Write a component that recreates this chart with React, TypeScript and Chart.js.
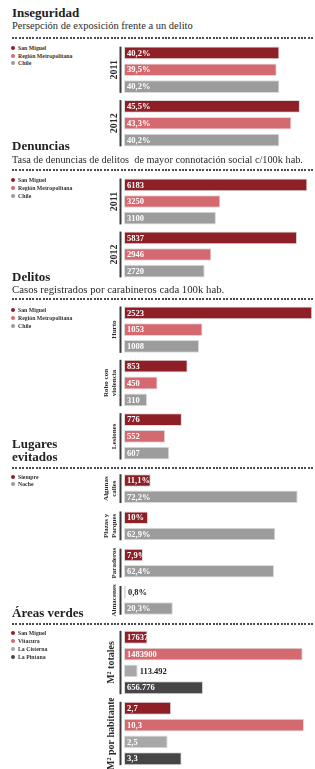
import React, { useEffect, useRef } from 'react';
import { Chart, registerables } from 'chart.js';
Chart.register(...registerables);

const FONT = "'Liberation Serif', 'Times New Roman', serif";
const RED = '#8e1f27';
const PINK = '#d46a70';
const GRAY = '#9c9c9c';
const LIGHT_GRAY = '#a8a8a8';
const DARK_GRAY = '#464646';

// ---- Inseguridad ----
const YEARS = [['2011'], ['2012']];
const SERIES_CMP = ['San Miguel', 'Región Metropolitana', 'Chile'];
const INSEG_SAN_MIGUEL = [40.2, 45.5];
const INSEG_RM = [39.5, 43.3];
const INSEG_CHILE = [40.2, 40.2];

// ---- Denuncias ----
const DEN_SAN_MIGUEL = [6183, 5837];
const DEN_RM = [3250, 2946];
const DEN_CHILE = [3100, 2720];

// ---- Delitos ----
const DELITOS = [['Hurto'], ['Robo con', 'violencia'], ['Lesiones']];
const DEL_SAN_MIGUEL = [2523, 853, 776];
const DEL_RM = [1053, 450, 552];
const DEL_CHILE = [1008, 310, 607];

// ---- Lugares evitados ----
const LUGARES = [['Algunas', 'calles'], ['Plazas y', 'Parques'], ['Paraderos'], ['Almacenes']];
const SERIES_LUG = ['Siempre', 'Noche'];
const SIEMPRE = [11.1, 10, 7.9, 0.8];
const NOCHE = [72.2, 62.9, 62.4, 20.3];

// ---- Áreas verdes ----
const SERIES_AREAS = ['San Miguel', 'Vitacura', 'La Cisterna', 'La Pintana'];
const M2_TOTALES = [17637, 1483900, 113492, 656776];
const M2_TOTALES_LABELS = ['17637', '1483900', '113.492', '656.776'];
const M2_HABITANTE = [2.7, 10.3, 2.5, 3.3];

const fmtDec = (v: number) => String(v).replace('.', ',');
const fmtPct = (v: number) => fmtDec(v) + '%';

const decoPlugin = {
  id: 'deco',
  afterDatasetsDraw(chart: any, _args: any, opts: any) {
    const ctx = chart.ctx;
    const area = chart.chartArea;
    const groups: string[][] = opts.groups;
    const nDs = chart.data.datasets.length;
    ctx.save();
    groups.forEach((lines, g) => {
      const first = chart.getDatasetMeta(0).data[g];
      const last = chart.getDatasetMeta(nDs - 1).data[g];
      const top = first.y - first.height / 2;
      const bottom = last.y + last.height / 2;
      ctx.fillStyle = '#3a3a3a';
      ctx.fillRect(area.left - 4.5, top, 2, bottom - top);
      ctx.save();
      ctx.translate(opts.groupX, (top + bottom) / 2);
      ctx.rotate(-Math.PI / 2);
      ctx.font = `bold ${opts.groupFont}px ${FONT}`;
      ctx.textAlign = 'center';
      ctx.textBaseline = 'middle';
      ctx.fillStyle = '#2a2a2a';
      lines.forEach((ln, i) => ctx.fillText(ln, 0, (i - (lines.length - 1)) * opts.groupLineH));
      ctx.restore();
    });
    ctx.font = `bold 8.5px ${FONT}`;
    ctx.textBaseline = 'middle';
    ctx.textAlign = 'left';
    chart.data.datasets.forEach((_ds: any, di: number) => {
      const meta = chart.getDatasetMeta(di);
      meta.data.forEach((el: any, i: number) => {
        const text = opts.labels[di][i];
        const w = el.x - el.base;
        if (w >= 16) {
          ctx.fillStyle = '#ffffff';
          ctx.fillText(text, el.base + 3, el.y + 0.5);
        } else {
          ctx.fillStyle = '#222222';
          ctx.fillText(text, el.x + 2, el.y + 0.5);
        }
      });
    });
    ctx.restore();
  },
};

type Series = { label: string; color: string; data: number[]; minBarLength?: number };

function BarChart(props: {
  top: number; height: number; groups: string[][]; series: Series[]; max: number;
  labels: string[][]; groupX: number; groupFont: number; groupLineH: number; cp: number; bp: number;
}) {
  const ref = useRef<HTMLCanvasElement>(null);
  useEffect(() => {
    const chart = new Chart(ref.current!, {
      type: 'bar',
      data: {
        labels: props.groups.map((g) => g.join(' ')),
        datasets: props.series.map((s) => ({
          label: s.label,
          data: s.data,
          backgroundColor: s.color,
          borderColor: '#dcdcdc',
          borderWidth: 1,
          borderSkipped: false,
          categoryPercentage: props.cp,
          barPercentage: props.bp,
          minBarLength: s.minBarLength,
        })),
      },
      options: {
        indexAxis: 'y',
        responsive: false,
        animation: false,
        events: [],
        layout: { padding: { left: 124, right: 0, top: 0, bottom: 0 } },
        scales: {
          x: { display: false, min: 0, max: props.max },
          y: { display: false },
        },
        plugins: {
          legend: { display: false },
          tooltip: { enabled: false },
          deco: {
            groups: props.groups,
            labels: props.labels,
            groupX: props.groupX,
            groupFont: props.groupFont,
            groupLineH: props.groupLineH,
          },
        } as any,
      },
      plugins: [decoPlugin],
    });
    return () => chart.destroy();
  }, []);
  return (
    <div style={{ position: 'absolute', left: 0, top: props.top, width: 315, height: props.height }}>
      <canvas ref={ref} width={315} height={props.height} style={{ display: 'block' }} />
    </div>
  );
}

function Title({ top, children }: { top: number; children: React.ReactNode }) {
  return (
    <div style={{ position: 'absolute', left: 12, top, fontFamily: FONT, fontWeight: 'bold', fontSize: 13, lineHeight: '12.6px', color: '#222', whiteSpace: 'pre' }}>
      {children}
    </div>
  );
}

function Subtitle({ top, size, children }: { top: number; size: number; children: React.ReactNode }) {
  return (
    <div style={{ position: 'absolute', left: 12, top, fontFamily: FONT, fontSize: size, lineHeight: '11px', color: '#2a2a2a', whiteSpace: 'pre' }}>
      {children}
    </div>
  );
}

function Dots({ top }: { top: number }) {
  return (
    <div style={{
      position: 'absolute', left: 12, top, width: 303, height: 2,
      backgroundImage: 'repeating-linear-gradient(to right, #4a4a4a 0px, #4a4a4a 2px, transparent 2px, transparent 3.4px)',
    }} />
  );
}

function Legend({ items, ys }: { items: { label: string; color: string }[]; ys: number[] }) {
  return (
    <>
      {items.map((it, i) => (
        <div key={i} style={{ position: 'absolute', left: 10.5, top: ys[i] - 4, height: 8, display: 'flex', alignItems: 'center', fontFamily: FONT, fontWeight: 'bold', fontSize: 5.8, lineHeight: '8px', color: '#333', whiteSpace: 'nowrap' }}>
          <span style={{ display: 'inline-block', width: 4, height: 4, borderRadius: 2, background: it.color, marginRight: 3.5 }} />
          {it.label}
        </div>
      ))}
    </>
  );
}

const cmpColors = [RED, PINK, GRAY];
const areaColors = [RED, PINK, LIGHT_GRAY, DARK_GRAY];

export default function App() {
  const insegSeries = [INSEG_SAN_MIGUEL, INSEG_RM, INSEG_CHILE];
  const denSeries = [DEN_SAN_MIGUEL, DEN_RM, DEN_CHILE];
  const delSeries = [DEL_SAN_MIGUEL, DEL_RM, DEL_CHILE];
  const lugSeries = [SIEMPRE, NOCHE];
  return (
    <div style={{ position: 'absolute', left: 0, top: 0, width: 315, height: 769, overflow: 'hidden', background: '#fff' }}>
      {/* Inseguridad */}
      <Title top={7}>Inseguridad</Title>
      <Subtitle top={20.3} size={10.5}>Persepción de exposición frente a un delito</Subtitle>
      <Dots top={36.5} />
      <Legend items={SERIES_CMP.map((l, i) => ({ label: l, color: cmpColors[i] }))} ys={[48, 55.5, 63]} />
      <BarChart
        top={43} height={107} groups={YEARS} max={49.4} cp={0.94} bp={0.76}
        series={insegSeries.map((d, i) => ({ label: SERIES_CMP[i], color: cmpColors[i], data: d }))}
        labels={insegSeries.map((d) => d.map(fmtPct))}
        groupX={114} groupFont={10} groupLineH={10}
      />

      {/* Denuncias */}
      <Title top={140.4}>Denuncias</Title>
      <Subtitle top={154.2} size={10.3}>{'Tasa de denuncias de delitos  de mayor connotación social c/100k hab.'}</Subtitle>
      <Dots top={169} />
      <Legend items={SERIES_CMP.map((l, i) => ({ label: l, color: cmpColors[i] }))} ys={[180, 187.8, 195.6]} />
      <BarChart
        top={175} height={106} groups={YEARS} max={6440} cp={0.94} bp={0.76}
        series={denSeries.map((d, i) => ({ label: SERIES_CMP[i], color: cmpColors[i], data: d }))}
        labels={denSeries.map((d) => d.map((v) => String(v)))}
        groupX={114} groupFont={10} groupLineH={10}
      />

      {/* Delitos */}
      <Title top={271}>Delitos</Title>
      <Subtitle top={284.1} size={10.75}>Casos registrados por carabineros cada 100k hab.</Subtitle>
      <Dots top={297.5} />
      <Legend items={SERIES_CMP.map((l, i) => ({ label: l, color: cmpColors[i] }))} ys={[309.5, 317.5, 325.5]} />
      <BarChart
        top={303} height={160} groups={DELITOS} max={2560} cp={0.945} bp={0.76}
        series={delSeries.map((d, i) => ({ label: SERIES_CMP[i], color: cmpColors[i], data: d }))}
        labels={delSeries.map((d) => d.map((v) => String(v)))}
        groupX={114.5} groupFont={7} groupLineH={8.7}
      />

      {/* Lugares evitados */}
      <Title top={438.4}>{'Lugares\nevitados'}</Title>
      <Dots top={466.5} />
      <Legend items={SERIES_LUG.map((l, i) => ({ label: l, color: [RED, GRAY][i] }))} ys={[476.7, 484.3]} />
      <BarChart
        top={470} height={149} groups={LUGARES} max={79.4} cp={0.88} bp={0.76}
        series={lugSeries.map((d, i) => ({ label: SERIES_LUG[i], color: [RED, GRAY][i], data: d }))}
        labels={lugSeries.map((d) => d.map(fmtPct))}
        groupX={114.5} groupFont={7} groupLineH={8.7}
      />

      {/* Áreas verdes */}
      <Title top={607}>Áreas verdes</Title>
      <Dots top={623} />
      <Legend items={SERIES_AREAS.map((l, i) => ({ label: l, color: areaColors[i] }))} ys={[632.7, 641, 649.3, 657.3]} />
      <BarChart
        top={627} height={71} groups={[['M² totales']]} max={1586000} cp={0.949} bp={0.76}
        series={M2_TOTALES.map((v, i) => ({ label: SERIES_AREAS[i], color: areaColors[i], data: [v], minBarLength: i === 0 ? 23.5 : undefined }))}
        labels={M2_TOTALES_LABELS.map((l) => [l])}
        groupX={111.5} groupFont={10} groupLineH={10}
      />
      <BarChart
        top={698} height={71} groups={[['M² por habitante']]} max={10.93} cp={0.949} bp={0.76}
        series={M2_HABITANTE.map((v, i) => ({ label: SERIES_AREAS[i], color: areaColors[i], data: [v] }))}
        labels={M2_HABITANTE.map((v) => [fmtDec(v)])}
        groupX={111.5} groupFont={10} groupLineH={10}
      />
    </div>
  );
}
